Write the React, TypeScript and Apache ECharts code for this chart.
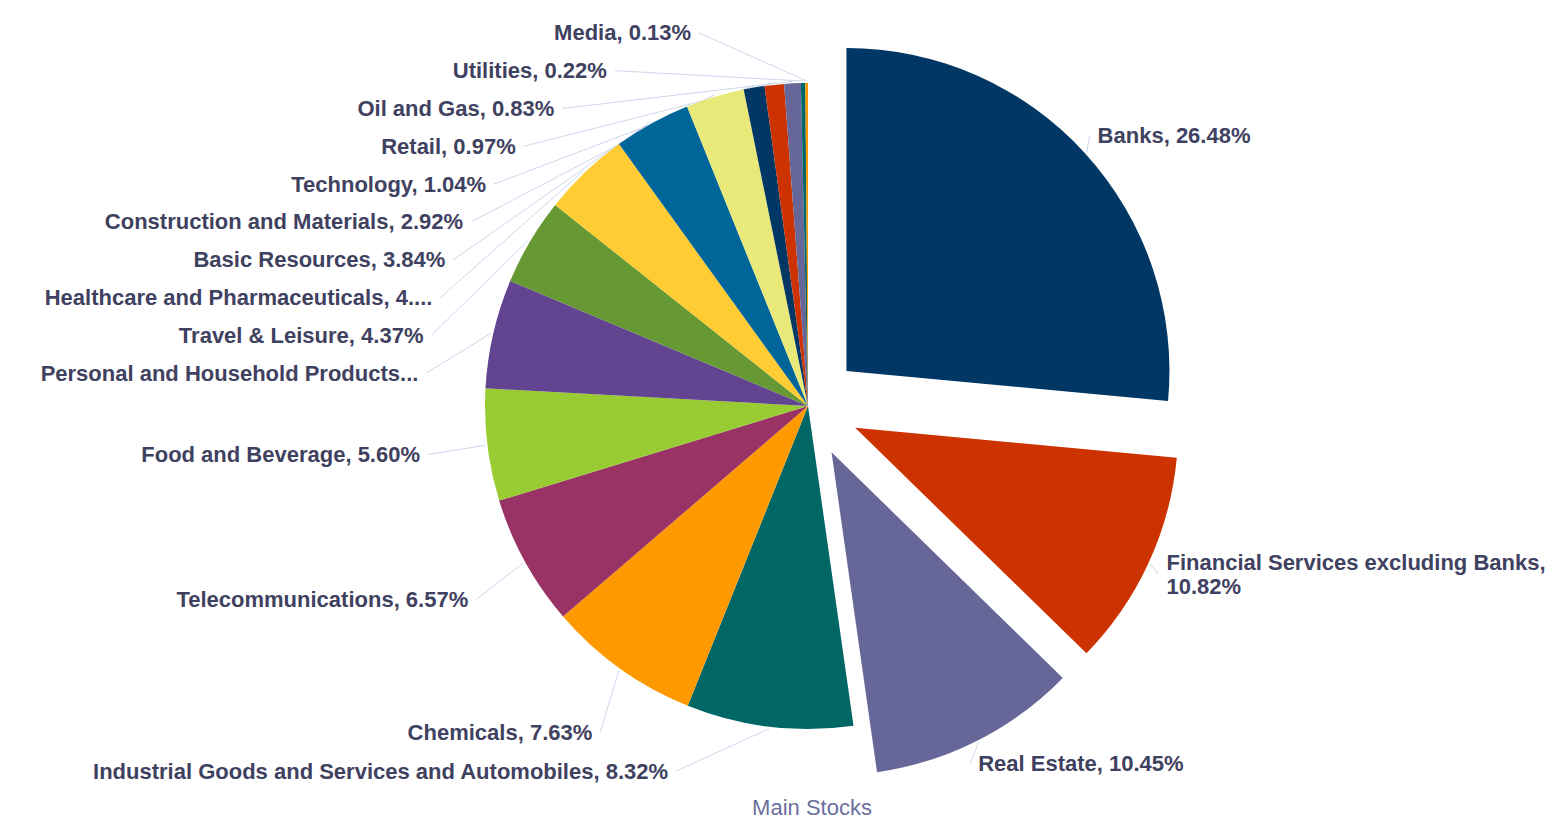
import React, { useEffect, useRef } from "react";
import * as echarts from "echarts";

// ---- data ----
const categories: string[] = [
  "Banks",
  "Financial Services excluding Banks",
  "Real Estate",
  "Industrial Goods and Services and Automobiles",
  "Chemicals",
  "Telecommunications",
  "Food and Beverage",
  "Personal and Household Products",
  "Travel & Leisure",
  "Healthcare and Pharmaceuticals",
  "Basic Resources",
  "Construction and Materials",
  "Technology",
  "Retail",
  "Oil and Gas",
  "Utilities",
  "Media",
];
const shares: number[] = [
  26.48, 10.82, 10.45, 8.32, 7.63, 6.57, 5.6, 5.45, 4.37, 4.36, 3.84, 2.92, 1.04, 0.97, 0.83, 0.22, 0.13,
];
const exploded: string[] = ["Banks", "Financial Services excluding Banks", "Real Estate"];
const seriesName = "Main Stocks";

// ---- styles ----
const palette = [
  "#003764", "#CC3300", "#666699", "#006666", "#FF9900", "#993366",
  "#99CC33", "#634490", "#669933", "#FFCC33", "#006699", "#E9E97A",
];
const FONT = "'Liberation Sans', Arial, Helvetica, sans-serif";
const LABEL_COLOR = "#3f4160";
const LINE_COLOR = "#ccd6eb";
const CLEAR = "rgba(0,0,0,0)";

// ---- geometry ----
const CX = 808;
const CY = 406;
const RADIUS = 323;
const OFFSET = 52;
const LABEL_RX_LEFT = 391;
const LABEL_RX_RIGHT = 396;
const LABEL_RY = 401;
const TOP = 14;
const BOTTOM = 790;
const STEP = 37.8;
const GAP = 8;

const labelOverrides: Record<string, any> = {
  "Financial Services excluding Banks": { wrap: true },
  "Healthcare and Pharmaceuticals": { width: 392, overflow: "truncate", ellipsis: "..." },
  "Personal and Household Products": { width: 381, overflow: "truncate", ellipsis: "..." },
};

const total = shares.reduce((a, b) => a + b, 0);
const midAngles: number[] = (() => {
  let acc = 0;
  return shares.map((v) => {
    const m = ((acc + v / 2) / total) * Math.PI * 2;
    acc += v;
    return m;
  });
})();

type LabelPos = {
  right: boolean;
  ideal: number;
  y: number;
  h: number;
  x: number;
  start: number[];
  end: number[];
};

function computeLabelLayout(): LabelPos[] {
  const items: LabelPos[] = shares.map((v, i) => {
    const mid = midAngles[i];
    const sx = Math.sin(mid);
    const sy = -Math.cos(mid);
    const off = exploded.includes(categories[i]) ? OFFSET : 0;
    const lines = labelOverrides[categories[i]]?.wrap ? 2 : 1;
    return {
      right: mid < Math.PI,
      ideal: CY + sy * LABEL_RY,
      y: 0,
      h: STEP * lines,
      x: 0,
      start: [CX + sx * (RADIUS + off + 2), CY + sy * (RADIUS + off + 2)],
      end: [0, 0],
    };
  });
  [true, false].forEach((side) => {
    const list = items.filter((it) => it.right === side).sort((a, b) => a.ideal - b.ideal);
    list.forEach((it, k) => {
      let y = Math.max(it.ideal, TOP + STEP / 2);
      if (k > 0) y = Math.max(y, list[k - 1].y + (list[k - 1].h + it.h) / 2);
      it.y = y;
    });
    for (let k = list.length - 1; k >= 0; k--) {
      const it = list[k];
      let y = Math.min(it.y, BOTTOM - it.h / 2);
      if (k < list.length - 1) y = Math.min(y, list[k + 1].y - (list[k + 1].h + it.h) / 2);
      it.y = y;
    }
  });
  items.forEach((it) => {
    const dy = it.y - CY;
    const rx = it.right ? LABEL_RX_RIGHT : LABEL_RX_LEFT;
    const dx = Math.sqrt(Math.max(0, rx * rx - dy * dy));
    it.x = it.right ? CX + dx : CX - dx;
    it.end = [it.right ? it.x - GAP : it.x + GAP, it.y];
  });
  return items;
}

function labelText(name: string, value: number): string {
  const pct = `${value.toFixed(2)}%`;
  return labelOverrides[name]?.wrap ? `${name},\n${pct}` : `${name}, ${pct}`;
}

export default function App() {
  const ref = useRef<HTMLDivElement>(null);
  useEffect(() => {
    if (!ref.current) return;
    const chart = echarts.init(ref.current, null, { renderer: "svg" });
    const layout = computeLabelLayout();

    const mainSeries = {
      type: "pie",
      name: seriesName,
      center: [CX, CY],
      radius: RADIUS,
      startAngle: 90,
      clockwise: true,
      avoidLabelOverlap: false,
      emphasis: { disabled: true },
      itemStyle: { borderWidth: 0 },
      label: {
        show: true,
        position: "outside",
        formatter: (p: any) => labelText(p.name, Number(p.value)),
        color: LABEL_COLOR,
        fontSize: 22,
        fontWeight: "bold",
        fontFamily: FONT,
        lineHeight: 24,
      },
      labelLine: { show: true, smooth: false, lineStyle: { color: LINE_COLOR, width: 1 } },
      labelLayout: (p: any) => {
        const L = layout[p.dataIndex];
        return {
          x: L.x,
          y: L.y,
          align: L.right ? "left" : "right",
          verticalAlign: "middle",
          labelLinePoints: [L.start, L.end, L.end],
        };
      },
      data: categories.map((name, i) => {
        const o = labelOverrides[name];
        const lab = o && !o.wrap ? { width: o.width, overflow: o.overflow, ellipsis: o.ellipsis } : undefined;
        return {
          name,
          value: shares[i],
          itemStyle: { color: exploded.includes(name) ? CLEAR : palette[i % palette.length] },
          label: lab,
        };
      }),
    };

    const explodedSeries = exploded.map((ename) => {
      const j = categories.indexOf(ename);
      const mid = midAngles[j];
      return {
        type: "pie",
        name: ename,
        silent: true,
        center: [CX + Math.sin(mid) * OFFSET, CY - Math.cos(mid) * OFFSET],
        radius: RADIUS,
        startAngle: 90,
        clockwise: true,
        emphasis: { disabled: true },
        itemStyle: { borderWidth: 0 },
        label: { show: false },
        labelLine: { show: false },
        data: categories.map((name, i) => ({
          name,
          value: shares[i],
          itemStyle: { color: i === j ? palette[i % palette.length] : CLEAR },
        })),
      };
    });

    chart.setOption({
      animation: false,
      title: {
        text: seriesName,
        left: CX + 4,
        top: 798,
        padding: 0,
        textAlign: "center",
        textStyle: {
          fontFamily: FONT,
          fontSize: 22,
          lineHeight: 18,
          fontWeight: "normal",
          color: "#6b6f9e",
        },
      },
      series: [mainSeries, ...explodedSeries],
    });
    return () => chart.dispose();
  }, []);
  return (
    <div
      ref={ref}
      style={{ position: "absolute", left: 0, top: 0, width: 1554, height: 820 }}
    />
  );
}
